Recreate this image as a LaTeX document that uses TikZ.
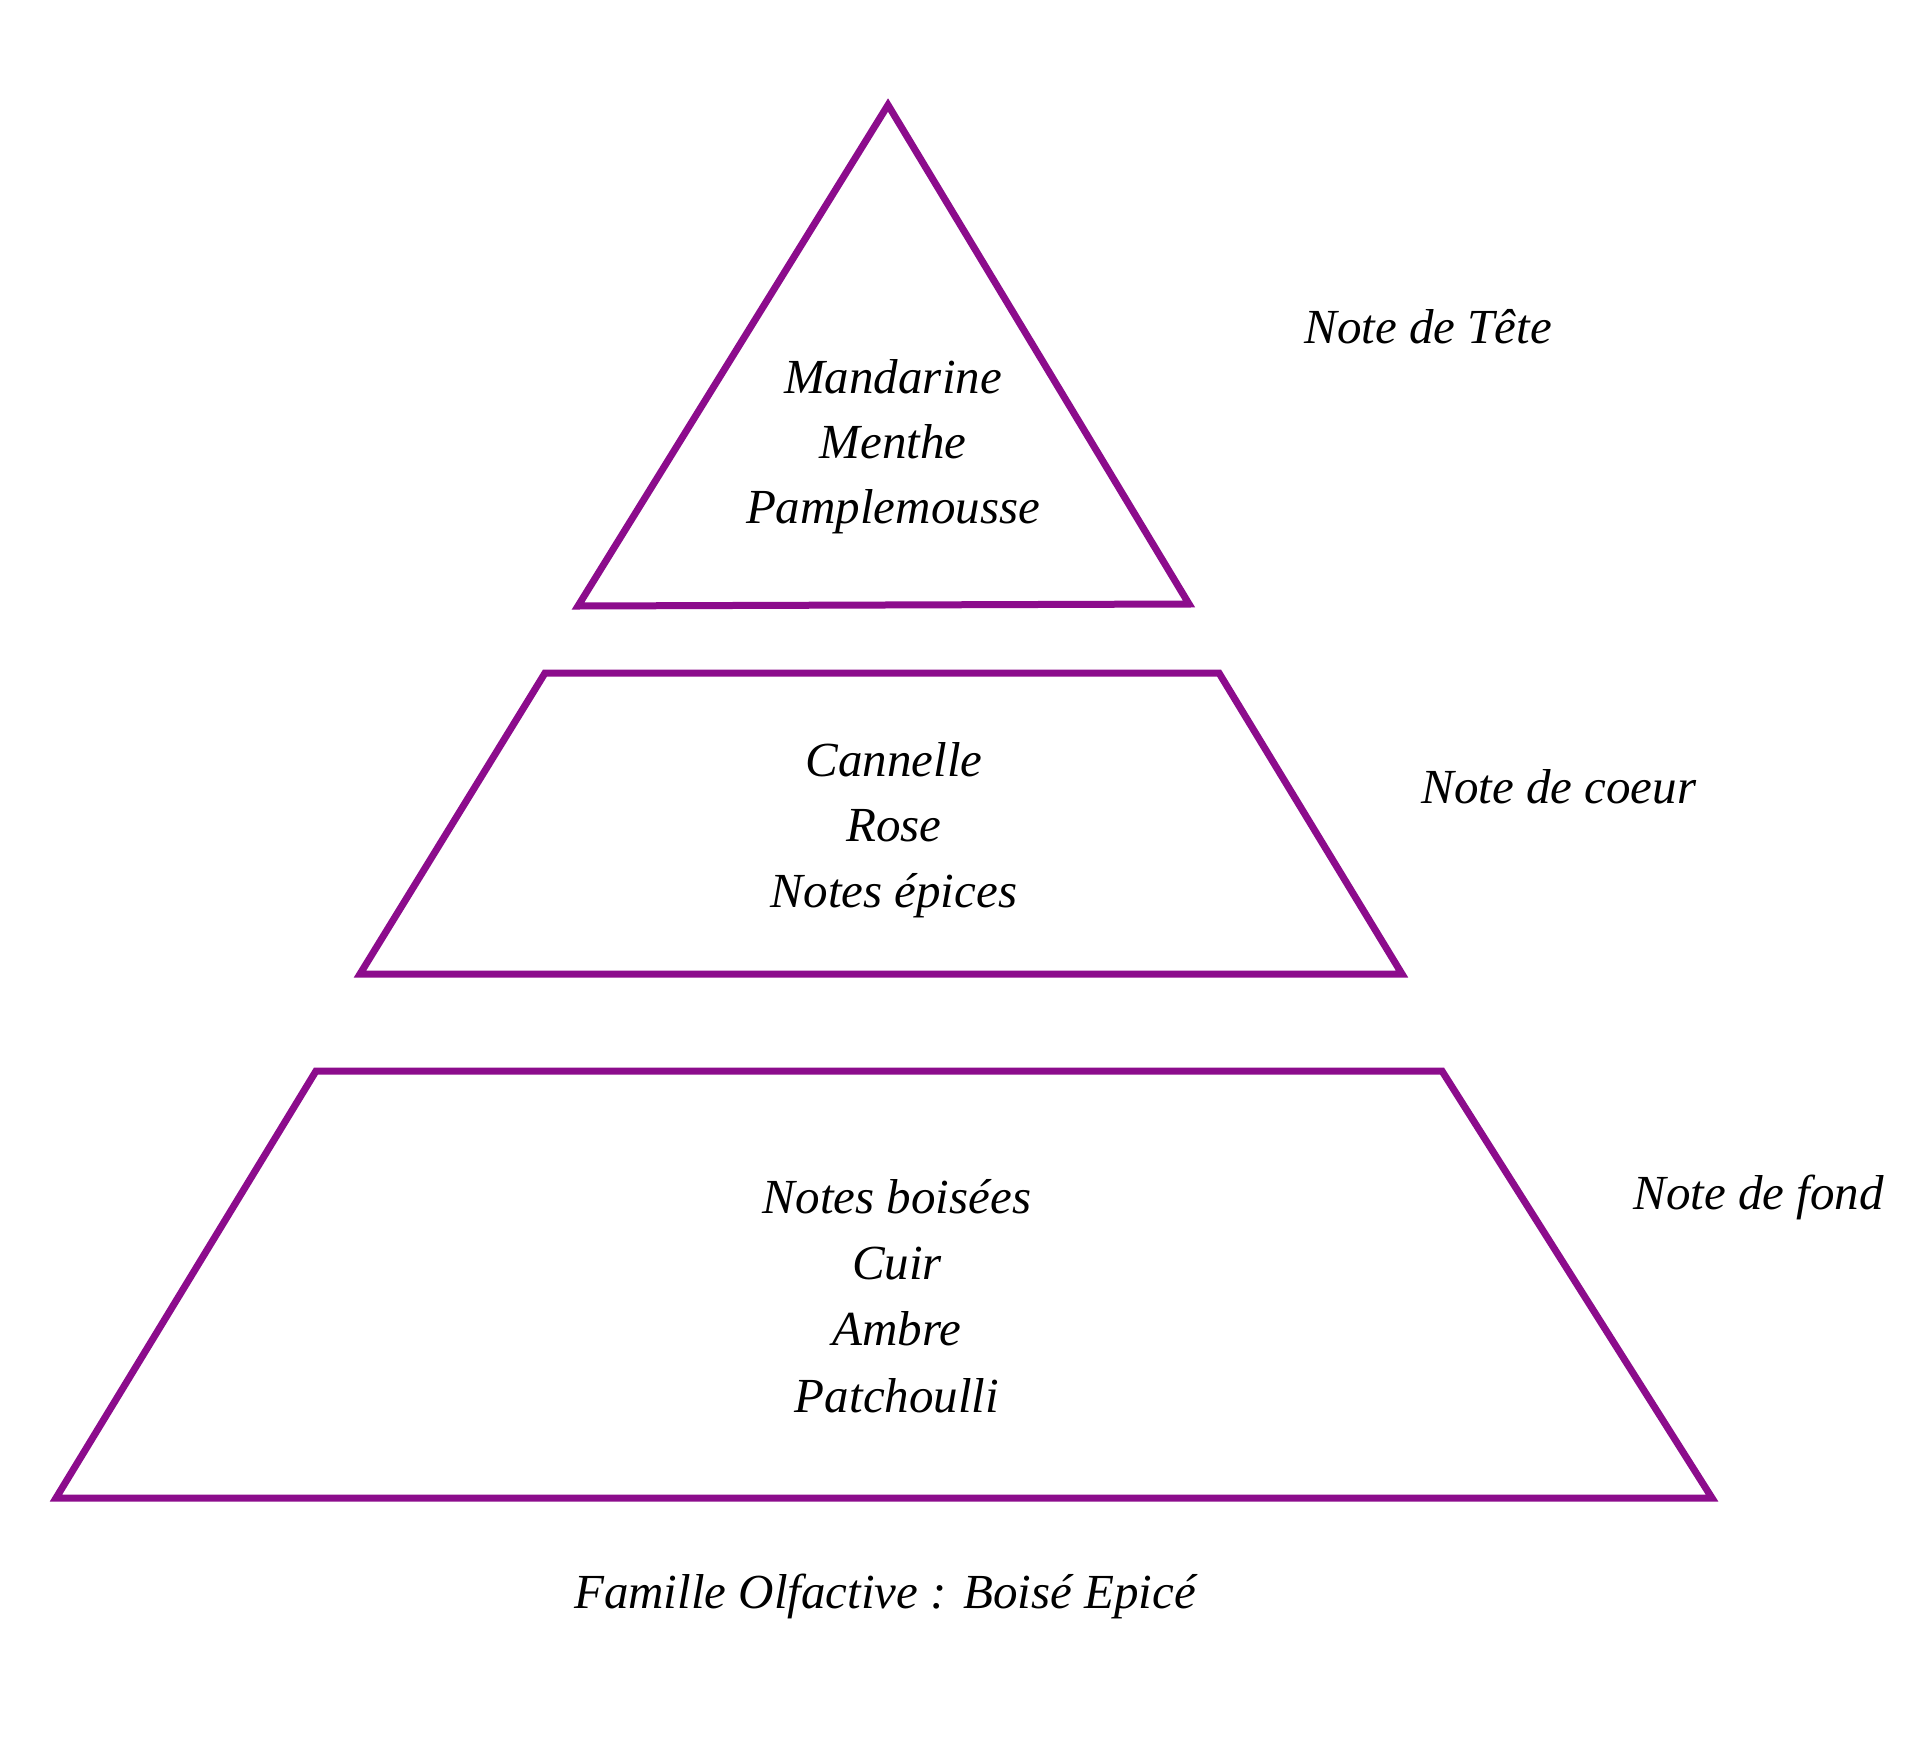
\documentclass[tikz,border=0pt]{standalone}
\usepackage{fontspec}
\setmainfont{Liberation Serif}
\definecolor{pyr}{RGB}{140,12,140}
\begin{document}
\begin{tikzpicture}[x=0.5pt,y=-0.5pt,
  tier/.style={draw=pyr,line width=3.5pt,line join=miter},
  txt/.style={anchor=base,inner sep=0pt,font=\fontsize{24.5}{30}\selectfont\itshape}]
\useasboundingbox[fill=white] (0,0) rectangle (1920,1755);
% tiers
\coordinate (t1) at (888,105);
\coordinate (t2) at (1189,604);
\coordinate (t3) at (578,606);
\draw[tier] (t1) -- (t2) -- (t3) -- cycle;
\coordinate (c1) at (545,673);
\coordinate (c2) at (1219,673);
\coordinate (c3) at (1402,974);
\coordinate (c4) at (360,974);
\draw[tier] (c1) -- (c2) -- (c3) -- (c4) -- cycle;
\coordinate (f1) at (316,1071);
\coordinate (f2) at (1442,1071);
\coordinate (f3) at (1712,1498);
\coordinate (f4) at (56,1498);
\draw[tier] (f1) -- (f2) -- (f3) -- (f4) -- cycle;
% top
\node[txt] (m1) at (893,393) {Mandarine};
\node[txt] (m2) at (893,458) {Menthe};
\node[txt] (m3) at (893,523) {Pamplemousse};
% heart
\node[txt] (h1) at (894,776) {Cannelle};
\node[txt] (h2) at (894,841) {Rose};
\node[txt] (h3) at (894,907) {Notes épices};
% base
\node[txt] (b1) at (897,1213) {Notes boisées};
\node[txt] (b2) at (897,1279) {Cuir};
\node[txt] (b3) at (897,1345) {Ambre};
\node[txt] (b4) at (897,1412) {Patchoulli};
% labels
\node[txt,anchor=base west] (lt) at (1304,343) {Note de Tête};
\node[txt,anchor=base west] (lc) at (1421,803) {Note de coeur};
\node[txt,anchor=base west] (lf) at (1633,1209) {Note de fond};
\node[txt] (fam) at (885,1608) {Famille Olfactive : Boisé Epicé};
\end{tikzpicture}
\end{document}
